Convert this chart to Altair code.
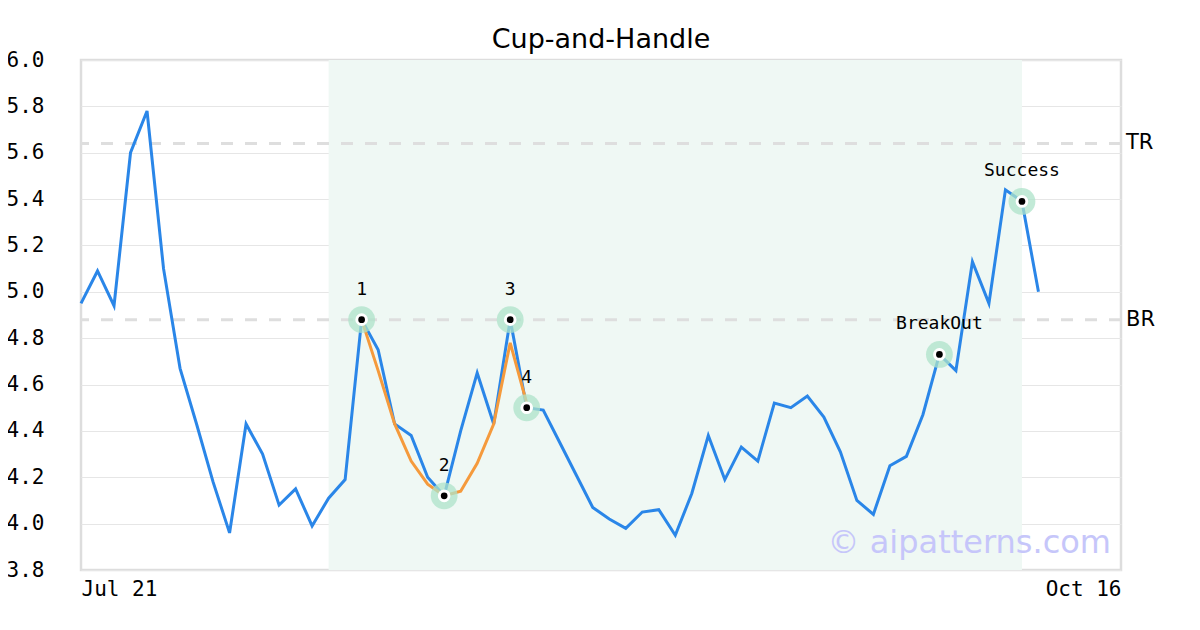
import altair as alt
import pandas as pd

# ---- data ----
price = [4.95, 5.09, 4.94, 5.60, 5.78, 5.10, 4.67, 4.43, 4.18, 3.96,
         4.43, 4.30, 4.08, 4.15, 3.99, 4.11, 4.19, 4.88, 4.75, 4.43,
         4.38, 4.20, 4.12, 4.40, 4.65, 4.43, 4.88, 4.50, 4.49, 4.35,
         4.21, 4.07, 4.02, 3.98, 4.05, 4.06, 3.95, 4.13, 4.38, 4.19,
         4.33, 4.27, 4.52, 4.50, 4.55, 4.46, 4.31, 4.10, 4.04, 4.25,
         4.29, 4.47, 4.73, 4.66, 5.13, 4.95, 5.44, 5.39, 5.00]
cup_idx = [17, 18, 19, 20, 21, 22, 23, 24, 25, 26, 27]
cup_val = [4.88, 4.66, 4.43, 4.27, 4.17, 4.12, 4.14, 4.26, 4.43, 4.78, 4.52]
pt_labels = ["1", "2", "3", "4", "BreakOut", "Success"]
pt_idx = [17, 22, 26, 27, 52, 57]
pt_val = [4.88, 4.12, 4.88, 4.50, 4.73, 5.39]
levels = ["TR", "BR"]
level_val = [5.64, 4.88]
zone_start, zone_end = 15, 57
n_days = 63
x_labels = ["Jul 21", "Oct 16"]

df_price = pd.DataFrame({"i": list(range(len(price))), "v": price})
df_cup = pd.DataFrame({"i": cup_idx, "v": cup_val})
df_pts = pd.DataFrame({"i": pt_idx, "v": pt_val, "label": pt_labels})
df_lvl = pd.DataFrame({"name": levels, "v": level_val, "i": [n_days, n_days]})
df_zone = pd.DataFrame({"a": [zone_start], "b": [zone_end], "lo": [3.8], "hi": [6.0]})
df_wm = pd.DataFrame({"i": [n_days], "v": [3.8], "t": ["© aipatterns.com"]})

xs = alt.Scale(domain=[0, n_days], nice=False, zero=False)
ys = alt.Scale(domain=[3.8, 6.0], nice=False, zero=False)

x_axis = alt.Axis(values=[0, n_days], labelExpr=f"datum.value == 0 ? '{x_labels[0]}' : '{x_labels[1]}'",
                  labelFlush=True, grid=False, ticks=False, domain=False, title=None,
                  labelFont="DejaVu Sans Mono", labelFontSize=21, labelColor="#000", labelPadding=8)
y_axis = alt.Axis(values=[3.8, 4.0, 4.2, 4.4, 4.6, 4.8, 5.0, 5.2, 5.4, 5.6, 5.8, 6.0], format=".1f",
                  grid=True, gridColor="#e6e6e6", gridWidth=1, ticks=False, domain=False, title=None,
                  labelFont="DejaVu Sans Mono", labelFontSize=21, labelColor="#000", labelPadding=37)

zone = alt.Chart(df_zone).mark_rect(color="#eff8f4").encode(
    x=alt.X("a:Q", scale=xs, axis=x_axis), x2="b:Q",
    y=alt.Y("lo:Q", scale=ys, axis=y_axis), y2="hi:Q")

rules = alt.Chart(df_lvl).mark_rule(color="#dedede", strokeWidth=3, strokeDash=[12, 12]).encode(
    y=alt.Y("v:Q", scale=ys))

lvl_text = alt.Chart(df_lvl).mark_text(align="left", baseline="middle", dx=5, font="DejaVu Sans",
                                       fontSize=21, color="#000").encode(
    x=alt.X("i:Q", scale=xs), y=alt.Y("v:Q", scale=ys), text="name:N")

blue = alt.Chart(df_price).mark_line(color="#2a86e8", strokeWidth=3).encode(
    x=alt.X("i:Q", scale=xs), y=alt.Y("v:Q", scale=ys))

orange = alt.Chart(df_cup).mark_line(color="#f59a3c", strokeWidth=3).encode(
    x=alt.X("i:Q", scale=xs), y=alt.Y("v:Q", scale=ys))

halo = alt.Chart(df_pts).mark_circle(color="#aee3c9", opacity=0.75, size=720).encode(
    x=alt.X("i:Q", scale=xs), y=alt.Y("v:Q", scale=ys))
white = alt.Chart(df_pts).mark_circle(color="#ffffff", opacity=1, size=160).encode(
    x=alt.X("i:Q", scale=xs), y=alt.Y("v:Q", scale=ys))
black = alt.Chart(df_pts).mark_circle(color="#000000", opacity=1, size=45).encode(
    x=alt.X("i:Q", scale=xs), y=alt.Y("v:Q", scale=ys))
pt_text = alt.Chart(df_pts).mark_text(baseline="middle", dy=-30, font="DejaVu Sans Mono",
                                      fontSize=18, color="#000").encode(
    x=alt.X("i:Q", scale=xs), y=alt.Y("v:Q", scale=ys), text="label:N")

wm = alt.Chart(df_wm).mark_text(align="right", baseline="alphabetic", dx=-10, dy=-17,
                                font="DejaVu Sans", fontSize=32, color="#c6c6fa").encode(
    x=alt.X("i:Q", scale=xs), y=alt.Y("v:Q", scale=ys), text="t:N")

chart = alt.layer(zone, rules, blue, orange, halo, white, black, pt_text, lvl_text, wm).properties(
    width=1040, height=510,
    title=alt.TitleParams("Cup-and-Handle", font="DejaVu Sans", fontSize=27, fontWeight="normal",
                          color="#000", offset=8, dy=13),
    autosize=alt.AutoSizeParams(type="none"),
    padding={"left": 73, "top": 52, "right": 60, "bottom": 40},
).configure_view(stroke="#dddddd", strokeWidth=2.5)

chart.save("out.html", embed_options={"renderer": "svg", "actions": False})
